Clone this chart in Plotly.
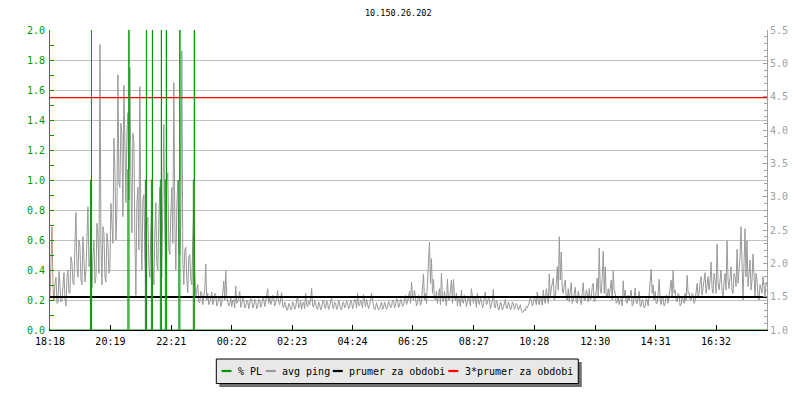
import plotly.graph_objects as go

# ---------------- data ----------------
title_text = "10.150.26.202"
series_names = ["% PL", "avg ping", "prumer za obdobi", "3*prumer za obdobi"]

x_tick_minutes = [0, 121, 243, 364, 485, 606, 727, 849, 970, 1092, 1213, 1334]
x_tick_labels = ["18:18", "20:19", "22:21", "00:22", "02:23", "04:24",
                 "06:25", "08:27", "10:28", "12:30", "14:31", "16:32"]
x_span_min = 1436          # visible time span (minutes after 18:18)
ping_step_min = 2          # sampling interval of the ping series

# avg ping (right axis units): samples at 18:18 + 4k minutes
ping_even = [
    1.50, 2.55, 1.45, 1.79, 1.41, 1.68, 1.45, 1.86, 1.36, 1.90,
    1.56, 2.01, 1.68, 2.76, 1.79, 2.24, 1.68, 2.13, 1.90, 2.85,
    2.01, 1.63, 2.35, 1.79, 2.40, 5.28, 1.68, 2.46, 1.72, 2.31,
    1.90, 2.58, 3.88, 2.35, 4.83, 3.14, 3.93, 4.67, 2.91, 4.26,
    4.94, 2.46, 3.81, 1.52, 3.14, 4.65, 1.90, 3.03, 1.68, 2.69,
    1.79, 2.80, 1.68, 2.91, 1.90, 3.14, 1.79, 4.08, 2.01, 3.36,
    2.13, 3.14, 4.71, 1.90, 3.25, 2.13, 5.19, 1.68, 2.24, 1.56,
    2.13, 1.68, 2.80, 1.50, 1.68, 1.41, 1.56, 1.48, 1.99, 1.55,
    1.42, 1.57, 1.44, 1.52, 1.40, 1.48, 1.42, 1.73, 1.89, 1.42,
    1.40, 1.35, 1.45, 1.66, 1.42, 1.58, 1.38, 1.46, 1.35, 1.44,
    1.38, 1.45, 1.36, 1.43, 1.35, 1.45, 1.38, 1.47, 1.42, 1.62,
    1.50, 1.42, 1.48, 1.40, 1.59, 1.38, 1.56, 1.33, 1.38, 1.30,
    1.37, 1.32, 1.40, 1.34, 1.50, 1.36, 1.31, 1.42, 1.55, 1.35,
    1.38, 1.63, 1.34, 1.40, 1.31, 1.38, 1.33, 1.45, 1.32, 1.40,
    1.35, 1.48, 1.32, 1.40, 1.33, 1.38, 1.30, 1.42, 1.36, 1.40,
    1.34, 1.42, 1.37, 1.44, 1.55, 1.36, 1.41, 1.53, 1.35, 1.40,
    1.38, 1.55, 1.36, 1.33, 1.35, 1.32, 1.42, 1.33, 1.38, 1.34,
    1.40, 1.35, 1.43, 1.37, 1.46, 1.36, 1.44, 1.38, 1.52, 1.42,
    1.58, 1.72, 1.44, 1.50, 1.40, 1.48, 1.42, 1.84, 1.55, 1.68,
    2.32, 2.07, 1.76, 1.45, 1.40, 1.62, 1.85, 1.42, 1.50, 1.76,
    1.45, 1.75, 1.76, 1.44, 1.36, 1.45, 1.60, 1.40, 1.48, 1.42,
    1.45, 1.62, 1.40, 1.46, 1.55, 1.38, 1.44, 1.37, 1.57, 1.40,
    1.46, 1.38, 1.61, 1.33, 1.40, 1.31, 1.38, 1.34, 1.46, 1.32,
    1.38, 1.33, 1.40, 1.35, 1.37, 1.33, 1.30, 1.27, 1.29, 1.33,
    1.42, 1.45, 1.40, 1.46, 1.57, 1.38, 1.46, 1.60, 1.40, 1.50,
    1.84, 1.62, 1.78, 1.50, 1.95, 2.40, 2.17, 1.55, 1.75, 1.45,
    1.42, 1.71, 1.45, 1.64, 1.40, 1.50, 1.38, 1.71, 1.44, 1.55,
    1.62, 1.48, 1.70, 1.45, 1.78, 2.23, 1.55, 2.18, 1.95, 1.50,
    1.50, 1.75, 1.89, 1.55, 1.42, 1.38, 1.46, 1.74, 1.60, 1.40,
    1.44, 1.60, 1.38, 1.63, 1.40, 1.58, 1.36, 1.42, 1.35, 1.45,
    1.55, 1.91, 1.68, 1.58, 1.40, 1.76, 1.38, 1.47, 1.40, 1.50,
    1.55, 1.75, 1.89, 1.60, 1.42, 1.52, 1.38, 1.45, 1.55, 1.82,
    1.56, 1.45, 1.52, 1.44, 1.70, 1.55, 1.80, 1.62, 1.86, 1.65,
    1.60, 2.02, 1.55, 1.75, 2.29, 1.60, 1.90, 1.50, 1.85, 2.34,
    1.62, 1.95, 1.55, 1.80, 2.21, 1.90, 2.55, 1.45, 2.52, 2.34,
    1.85, 1.60, 2.14, 1.50, 1.75, 1.45, 1.62, 1.80, 1.50, 1.72,
    1.60,
]
# avg ping: samples at 18:20 + 4k minutes (between the ones above)
ping_odd = [
    1.95, 1.62, 1.70, 1.40, 1.88, 1.42, 1.75, 1.48, 1.80, 1.55,
    2.10, 1.70, 2.30, 1.95, 2.35, 1.75, 2.40, 1.72, 2.50, 1.95,
    2.55, 2.10, 1.70, 2.60, 1.85, 2.30, 2.55, 1.80, 2.45, 1.85,
    2.90, 2.30, 3.40, 2.80, 3.20, 4.10, 2.70, 3.45, 3.95, 2.95,
    3.30, 3.95, 2.40, 2.90, 2.20, 2.60, 2.95, 2.10, 2.65, 1.95,
    2.50, 1.95, 2.45, 2.00, 2.70, 2.05, 2.95, 2.60, 3.20, 2.20,
    2.75, 2.30, 2.60, 2.85, 2.20, 2.60, 2.05, 2.20, 1.75, 2.10,
    1.75, 2.35, 1.90, 1.62, 1.42, 1.58, 1.38, 1.62, 1.45, 1.38,
    1.52, 1.38, 1.55, 1.36, 1.50, 1.35, 1.55, 1.45, 1.50, 1.36,
    1.48, 1.45, 1.33, 1.40, 1.50, 1.34, 1.48, 1.33, 1.45, 1.32,
    1.47, 1.33, 1.46, 1.32, 1.46, 1.34, 1.48, 1.35, 1.50, 1.40,
    1.38, 1.52, 1.36, 1.50, 1.42, 1.47, 1.36, 1.42, 1.30, 1.40,
    1.30, 1.42, 1.31, 1.45, 1.33, 1.44, 1.40, 1.32, 1.38, 1.44,
    1.45, 1.36, 1.44, 1.32, 1.42, 1.30, 1.43, 1.34, 1.44, 1.31,
    1.44, 1.34, 1.42, 1.31, 1.45, 1.32, 1.41, 1.33, 1.44, 1.32,
    1.45, 1.32, 1.46, 1.33, 1.38, 1.45, 1.33, 1.40, 1.46, 1.32,
    1.44, 1.40, 1.30, 1.41, 1.30, 1.40, 1.31, 1.42, 1.31, 1.43,
    1.33, 1.45, 1.33, 1.47, 1.34, 1.46, 1.35, 1.48, 1.38, 1.50,
    1.40, 1.52, 1.60, 1.36, 1.52, 1.37, 1.58, 1.45, 1.40, 1.98,
    1.70, 1.55, 1.48, 1.58, 1.52, 1.38, 1.48, 1.58, 1.36, 1.45,
    1.60, 1.40, 1.50, 1.55, 1.48, 1.35, 1.42, 1.52, 1.35, 1.50,
    1.36, 1.45, 1.50, 1.34, 1.42, 1.48, 1.33, 1.50, 1.38, 1.48,
    1.32, 1.45, 1.35, 1.44, 1.30, 1.42, 1.30, 1.43, 1.33, 1.42,
    1.30, 1.42, 1.31, 1.40, 1.30, 1.38, 1.26, 1.31, 1.35, 1.40,
    1.48, 1.36, 1.50, 1.38, 1.42, 1.50, 1.37, 1.45, 1.62, 1.40,
    1.50, 1.72, 1.45, 1.70, 1.60, 1.75, 1.60, 1.68, 1.48, 1.62,
    1.58, 1.40, 1.55, 1.42, 1.58, 1.40, 1.56, 1.45, 1.60, 1.42,
    1.45, 1.65, 1.42, 1.60, 1.50, 1.62, 1.80, 1.55, 1.48, 1.62,
    1.62, 1.45, 1.60, 1.40, 1.50, 1.46, 1.36, 1.50, 1.42, 1.52,
    1.52, 1.36, 1.50, 1.40, 1.48, 1.35, 1.46, 1.33, 1.47, 1.36,
    1.70, 1.55, 1.45, 1.40, 1.55, 1.45, 1.50, 1.36, 1.52, 1.40,
    1.62, 1.50, 1.55, 1.45, 1.55, 1.36, 1.50, 1.40, 1.44, 1.55,
    1.45, 1.55, 1.40, 1.56, 1.50, 1.72, 1.52, 1.75, 1.55, 1.80,
    1.75, 1.62, 1.85, 1.55, 1.70, 1.80, 1.58, 1.72, 1.60, 1.75,
    1.80, 1.60, 1.85, 1.65, 1.70, 2.10, 1.75, 2.00, 1.80, 1.65,
    2.05, 1.75, 1.65, 1.85, 1.50, 1.68, 1.55, 1.60, 1.70, 1.55,
]

# packet-loss events (minutes after 18:18), first and second sample of loss
pl_event_min = [81, 156, 191, 203, 221, 231, 258, 287]
pl_first = [1.0, 1.07, 1.0, 1.0, 1.0, 1.0, 1.0, 1.0]
pl_second = [12.0, 9.0, 15.0, 10.0, 11.0, 8.0, 14.0, 10.0]

avg_ping = 1.495           # "prumer za obdobi"
triple_factor = 3          # "3*prumer za obdobi"

# ---------------- colours / fonts ----------------
GREEN = "#009900"
GREY = "#999999"
AXGREY = "#a0a0a0"
RED = "#ff0000"
FONT = "DejaVu Sans Mono"

# ---------------- build series ----------------
ping_values = []
for i, v in enumerate(ping_even):
    ping_values.append(v)
    if i < len(ping_odd):
        ping_values.append(ping_odd[i])
ping_t = [i * ping_step_min for i in range(len(ping_values))]

pl_x, pl_y = [0], [0]
for t, a, b in zip(pl_event_min, pl_first, pl_second):
    pl_x += [t, t + 2, t + 2.2]
    pl_y += [a, b, 0]
pl_x.append(x_span_min)
pl_y.append(0)

fig = go.Figure()
# main y axis = right scale (ping); y2 = left scale (% PL)
fig.add_trace(go.Scatter(x=ping_t, y=ping_values, mode="lines", name=series_names[1],
                         line=dict(color=GREY, width=1), yaxis="y"))
fig.add_trace(go.Scatter(x=[0, x_span_min], y=[avg_ping, avg_ping], mode="lines",
                         name=series_names[2], line=dict(color="black", width=2.2), yaxis="y"))
fig.add_trace(go.Scatter(x=[0, x_span_min], y=[avg_ping * triple_factor] * 2, mode="lines",
                         name=series_names[3], line=dict(color=RED, width=1.4), yaxis="y"))
fig.add_trace(go.Scatter(x=pl_x, y=pl_y, mode="lines", name=series_names[0],
                         line=dict(color=GREEN, width=1, shape="hv"), yaxis="y2"))

# ---------------- manual legend ----------------
def px_x(p):
    return (p - 50) / 720.0

def px_y(p):
    return (330 - p) / 300.0

shapes = [
    dict(type="rect", xref="paper", yref="paper", x0=px_x(220), x1=px_x(584),
         y0=px_y(387), y1=px_y(362), fillcolor="#6e6e6e", line=dict(width=0), layer="above"),
    dict(type="rect", xref="paper", yref="paper", x0=px_x(217), x1=px_x(580.5),
         y0=px_y(383.5), y1=px_y(359), fillcolor="#e8e8e8",
         line=dict(color="black", width=1), layer="above"),
]
legend_colors = [GREEN, GREY, "black", RED]
marker_x = [222.3, 266.7, 334, 450]
text_x = [236.5, 280.5, 348.3, 464.3]
ly = 371
annotations = []
for name, col, mx, tx in zip(series_names, legend_colors, marker_x, text_x):
    shapes.append(dict(type="line", xref="paper", yref="paper", x0=px_x(mx), x1=px_x(mx + 10),
                       y0=px_y(ly), y1=px_y(ly), line=dict(color=col, width=2.2), layer="above"))
    annotations.append(dict(text=name, xref="paper", yref="paper", x=px_x(tx), y=px_y(ly),
                            xanchor="left", yanchor="middle", showarrow=False,
                            font=dict(family=FONT, size=10, color="black")))

annotations.append(dict(text=title_text, xref="paper", yref="paper", x=px_x(400), y=px_y(13),
                        xanchor="center", yanchor="middle", showarrow=False,
                        font=dict(family=FONT, size=8.5, color="black")))

fig.update_layout(
    width=800, height=400,
    margin=dict(l=50, r=30, t=30, b=70),
    paper_bgcolor="white", plot_bgcolor="white",
    showlegend=False,
    font=dict(family=FONT, size=10, color="black"),
    shapes=shapes, annotations=annotations,
    xaxis=dict(range=[0, x_span_min], tickmode="array", tickvals=x_tick_minutes,
               ticktext=x_tick_labels, ticks="inside", ticklen=5, tickcolor="black",
               showline=True, linecolor="black", linewidth=1, showgrid=False,
               zeroline=False, tickfont=dict(family=FONT, size=10, color="black"),
               ticklabelstandoff=2),
    yaxis=dict(side="right", range=[1, 5.5], tick0=1, dtick=0.5, tickformat=".1f",
               ticks="inside", ticklen=4, tickcolor=AXGREY, showline=True,
               linecolor=AXGREY, showgrid=False, zeroline=False,
               tickfont=dict(family=FONT, size=10, color=AXGREY),
               minor=dict(dtick=0.1, ticks="inside", ticklen=3, tickcolor=AXGREY, showgrid=False)),
    yaxis2=dict(side="left", overlaying="y", range=[0, 2], tick0=0, dtick=0.2,
                tickformat=".1f", ticks="inside", ticklen=4, tickcolor=GREEN,
                showline=True, linecolor=GREEN, showgrid=True, gridcolor="#c0c0c0",
                gridwidth=1, zeroline=False,
                tickfont=dict(family=FONT, size=10, color=GREEN),
                minor=dict(dtick=0.1, ticks="inside", ticklen=4, tickcolor=GREEN, showgrid=False),
                ticklabelstandoff=2),
)

fig.write_html("out.html", config={"displayModeBar": False},
               post_script="document.body.style.margin='0';document.body.style.overflow='hidden';")
